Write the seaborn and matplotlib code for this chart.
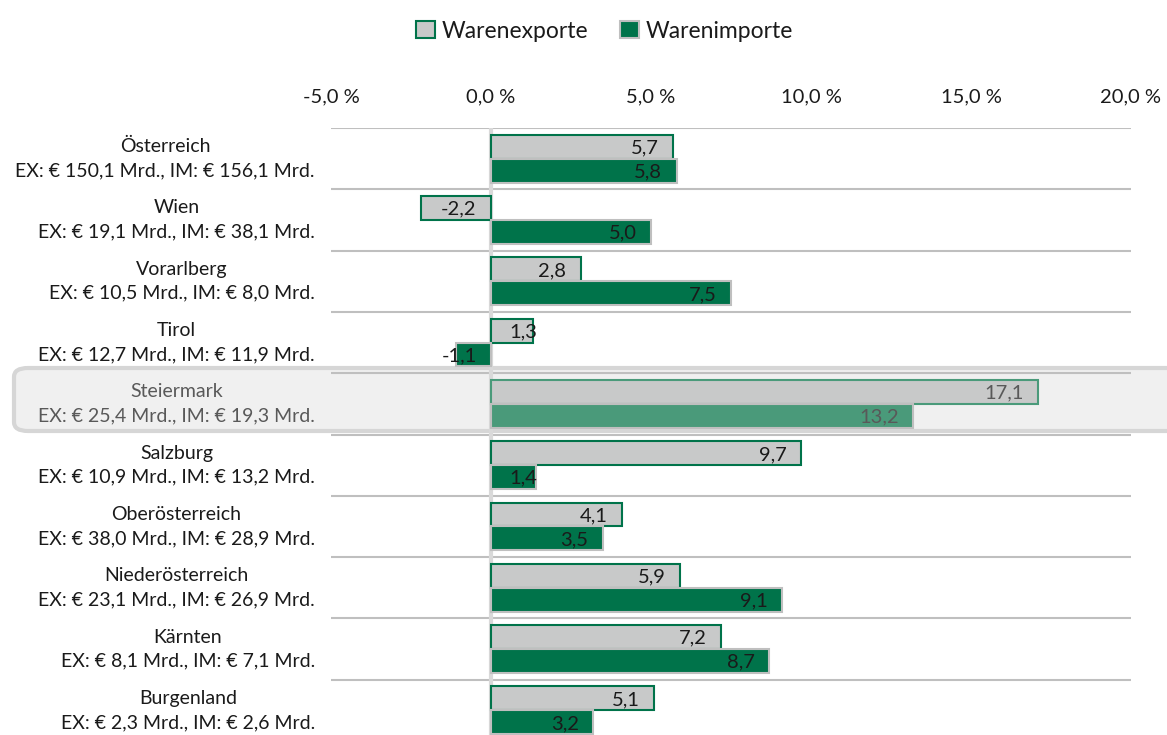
import numpy as np
import pandas as pd
import matplotlib
matplotlib.use("Agg")
import matplotlib.pyplot as plt
from matplotlib.patches import FancyBboxPatch, Patch
import seaborn as sns

regions = ["Österreich", "Wien", "Vorarlberg", "Tirol", "Steiermark",
           "Salzburg", "Oberösterreich", "Niederösterreich", "Kärnten", "Burgenland"]
export_growth = [5.7, -2.2, 2.8, 1.3, 17.1, 9.7, 4.1, 5.9, 7.2, 5.1]
import_growth = [5.8, 5.0, 7.5, -1.1, 13.2, 1.4, 3.5, 9.1, 8.7, 3.2]
export_volume = [150.1, 19.1, 10.5, 12.7, 25.4, 10.9, 38.0, 23.1, 8.1, 2.3]
import_volume = [156.1, 38.1, 8.0, 11.9, 19.3, 13.2, 28.9, 26.9, 7.1, 2.6]
series = ["Warenexporte", "Warenimporte"]
x_ticks = [-5, 0, 5, 10, 15, 20]
highlight = "Steiermark"


def de(v, nd=1):
    return f"{v:.{nd}f}".replace(".", ",")


df = pd.DataFrame({
    "region": regions * 2,
    "serie": [series[0]] * len(regions) + [series[1]] * len(regions),
    "wert": export_growth + import_growth,
})

sns.set_style("white")
plt.rcParams["font.family"] = ["Lato", "DejaVu Sans"]

GREEN = "#00734a"
GREY = "#c8c9c9"
EDGE_GREY = "#bfbfbf"
HL_GREEN = "#4a9a7a"
HL_TEXT = "#595959"
TEXT = "#1a1a1a"

fig = plt.figure(figsize=(11.67, 7.35), dpi=100)
ax = fig.add_axes([0.2836, -0.0082, 0.6855, 0.834])
ax.set_facecolor("none")

# highlight box behind the Steiermark row
box = FancyBboxPatch((14 / 1167, 1 - 431 / 735), 1.2, 63 / 735,
                     boxstyle="round,pad=0,rounding_size=0.012",
                     transform=fig.transFigure, facecolor="#f0f0f0",
                     edgecolor="#d6d6d6", linewidth=3, zorder=-5)
fig.patches.append(box)
ax.set_zorder(1)

sns.barplot(data=df, y="region", x="wert", hue="serie", order=regions,
            hue_order=series, orient="h", width=0.78, ax=ax, legend=False,
            saturation=1)

hl_idx = regions.index(highlight)
n = len(regions)
for i, p in enumerate(ax.patches[:2 * n]):
    s = i // n
    r = i % n
    if s == 0:
        fc, ec = GREY, GREEN if r != hl_idx else HL_GREEN
    else:
        fc, ec = (GREEN if r != hl_idx else HL_GREEN), EDGE_GREY
    p.set_facecolor(fc)
    p.set_edgecolor(ec)
    p.set_linewidth(1.5)
    p.set_zorder(3)
    val = (export_growth if s == 0 else import_growth)[r]
    yc = p.get_y() + p.get_height() / 2
    if val >= 0:
        xr = max(val - 0.45, 1.45)
    else:
        xr = -0.45
    ax.text(xr, yc + 0.02, de(val), ha="right", va="center", fontsize=14.5,
            color=HL_TEXT if r == hl_idx else TEXT, zorder=5)

ax.set_xlim(-5, 20)
ax.set_ylim(n - 0.5, -0.5)
ax.set_xticks(x_ticks)
ax.set_xticklabels([de(t) + " %" for t in x_ticks], fontsize=14.5, color=TEXT)
ax.xaxis.tick_top()
ax.tick_params(axis="x", length=0, pad=16)
ax.set_xlabel("")
ax.set_ylabel("")

ax.set_yticks(range(n))
ax.set_yticklabels([])
ax.tick_params(axis="y", length=0)
for i, reg in enumerate(regions):
    txt = f"{reg}\nEX: € {de(export_volume[i])} Mrd., IM: € {de(import_volume[i])} Mrd."
    ax.text(-5.5, i, txt, ha="right", va="center", multialignment="center",
            fontsize=14, linespacing=1.5,
            color=HL_TEXT if i == hl_idx else TEXT, zorder=5)

# horizontal separators between rows
for y in np.arange(-0.5, n, 1.0):
    ax.axhline(y, color=EDGE_GREY, linewidth=1.5, zorder=1)
ax.axvline(0, color="#d9d9d9", linewidth=3, zorder=2)

for sp in ax.spines.values():
    sp.set_visible(False)

handles = [Patch(facecolor=GREY, edgecolor=GREEN, linewidth=1.5, label=series[0]),
           Patch(facecolor=GREEN, edgecolor=EDGE_GREY, linewidth=1.5, label=series[1])]
fig.legend(handles=handles, loc="upper center", bbox_to_anchor=(0.518, 1.0),
           ncol=2, frameon=False, fontsize=16.5, handlelength=0.8,
           handleheight=0.8, handletextpad=0.3, columnspacing=1.4,
           labelcolor=TEXT)

fig.savefig("out.png", dpi=100)
